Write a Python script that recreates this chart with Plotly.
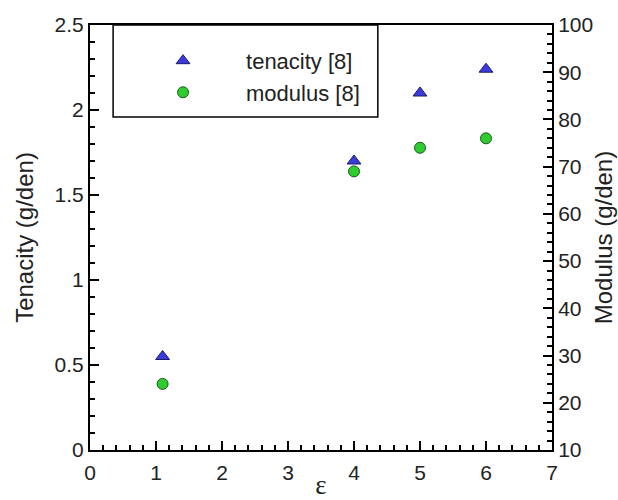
import plotly.graph_objects as go

strain = [1.1, 4, 5, 6]
tenacity = [0.55, 1.70, 2.10, 2.24]
modulus = [24, 69, 74, 76]

x_ticks = [0, 1, 2, 3, 4, 5, 6, 7]
y_ticks = [0, 0.5, 1, 1.5, 2, 2.5]
y_tick_labels = ["0", "0.5", "1", "1.5", "2", "2.5"]
y2_ticks = [10, 20, 30, 40, 50, 60, 70, 80, 90, 100]

FONT = "Liberation Sans, Arial, sans-serif"

fig = go.Figure()
fig.add_trace(go.Scatter(
    x=strain, y=tenacity, mode="markers", name="tenacity [8]",
    marker=dict(symbol="triangle-up", size=12, color="#3a3ae0",
                line=dict(color="#1a1a60", width=1)),
    yaxis="y"))
fig.add_trace(go.Scatter(
    x=strain, y=modulus, mode="markers", name="modulus [8]",
    marker=dict(symbol="circle", size=11, color="#2ecc2e",
                line=dict(color="#1a5a1a", width=1)),
    yaxis="y2"))

axis_common = dict(showgrid=False, zeroline=False, showline=True,
                   linecolor="black", linewidth=2, ticks="inside",
                   tickcolor="black", tickwidth=2, ticklen=9, automargin=False,
                   tickfont=dict(family=FONT, size=21, color="#222"))

fig.update_layout(
    width=618, height=500,
    margin=dict(l=90, r=66, t=25, b=50),
    plot_bgcolor="white", paper_bgcolor="white",
    showlegend=True,
    xaxis=dict(range=[0, 7], tickvals=x_ticks, mirror=True, ticklabelstandoff=3,
               minor=dict(dtick=0.2, ticklen=5, tickwidth=1.5, tickcolor="black", ticks="inside"),
               title=dict(text="ε", font=dict(family="Liberation Serif, serif", size=27, color="#222"), standoff=1),
               **axis_common),
    yaxis=dict(range=[0, 2.5], tickvals=y_ticks, ticktext=y_tick_labels,
               minor=dict(dtick=0.1, ticklen=5, tickwidth=1.5, tickcolor="black", ticks="inside"),
               title=dict(text="Tenacity (g/den)", font=dict(family=FONT, size=24, color="#222"), standoff=14),
               **axis_common),
    yaxis2=dict(range=[10, 100], tickvals=y2_ticks, overlaying="y", side="right",
                minor=dict(dtick=2, ticklen=5, tickwidth=1.5, tickcolor="black", ticks="inside"),
                title=dict(text="Modulus (g/den)", font=dict(family=FONT, size=24, color="#222"), standoff=3),
                **axis_common),
    legend=dict(x=0.065, y=0.965, xanchor="left", yanchor="top",
                bgcolor="rgba(0,0,0,0)", borderwidth=0, itemwidth=116,
                font=dict(family=FONT, size=22, color="#222"), tracegroupgap=0),
    shapes=[dict(type="rect", xref="paper", yref="paper", x0=0.05, x1=0.623,
                 y0=0.7835, y1=1.0, line=dict(color="black", width=1.5),
                 fillcolor="white", layer="below")],
)

fig.write_html("out.html")
